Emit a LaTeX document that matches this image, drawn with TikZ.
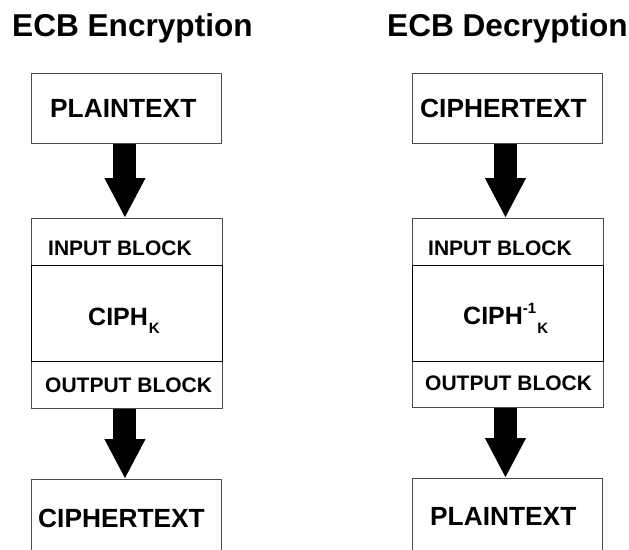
\documentclass[tikz,border=0pt]{standalone}
\usepackage{fontspec}
\setmainfont{Liberation Sans}
\usetikzlibrary{arrows.meta}
\tikzset{
  box/.style={draw=black!70, line width=0.9pt, rectangle, inner sep=0pt, anchor=north west},
  corebox/.style={draw=black, line width=1.1pt, rectangle, inner sep=0pt, anchor=north west},
  lbl/.style={inner sep=0pt, anchor=base west, font=\bfseries\fontsize{26.3}{26}\selectfont},
  small/.style={inner sep=0pt, anchor=base west, font=\bfseries\fontsize{21}{21}\selectfont},
  title/.style={inner sep=0pt, anchor=base west, font=\bfseries\fontsize{31.6}{31}\selectfont},
  fat/.style={line width=23pt, -{Triangle[length=40pt,width=38pt]}, black},
}
\begin{document}
\begin{tikzpicture}[x=1pt,y=-1pt]
\useasboundingbox (0,0) rectangle (629,549);
\clip (0,0) rectangle (629,549);
\fill[white] (0,0) rectangle (629,549);

% Left column: encryption
\node[title] (t1) at (12,36.5) {ECB Encryption};
\node[box, minimum width=190, minimum height=70] (lp) at (31,73) {};
\node[lbl] (lpt) at (50,117) {PLAINTEXT};
\node[box, minimum width=191, minimum height=190] (lm) at (31,218) {};
\node[corebox, minimum width=191, minimum height=96] (lc) at (31,265) {};
\node[small] (lin) at (48,255) {INPUT BLOCK};
\node[lbl] (lck) at (88,325) {\fontsize{25}{25}\selectfont CIPH\kern1pt\raisebox{-8pt}{\fontsize{15}{15}\selectfont K}};
\node[small] (lout) at (45,392) {OUTPUT BLOCK};
\node[box, minimum width=190, minimum height=100] (lb) at (31,479) {};
\node[lbl] (lbt) at (38,527) {CIPHERTEXT};
\draw[fat] ([xshift=-1.5pt]lp.south) -- ([xshift=-1.5pt]lp.south |- lm.north);
\draw[fat] ([xshift=-2pt]lm.south) -- ([xshift=-2pt]lm.south |- lb.north);

% Right column: decryption
\node[title] (t2) at (387,36.5) {ECB Decryption};
\node[box, minimum width=190, minimum height=70] (rp) at (412,73) {};
\node[lbl] (rpt) at (420,117) {CIPHERTEXT};
\node[box, minimum width=191, minimum height=189] (rm) at (412,218) {};
\node[corebox, minimum width=191, minimum height=96] (rc) at (412,265) {};
\node[small] (rin) at (428,255) {INPUT BLOCK};
\node[lbl] (rck) at (463,324) {\fontsize{25}{25}\selectfont CIPH\raisebox{11pt}{\fontsize{15}{15}\selectfont -1}\kern1pt\raisebox{-9pt}{\fontsize{15}{15}\selectfont K}};
\node[small] (rout) at (425,390.5) {OUTPUT BLOCK};
\node[box, minimum width=190, minimum height=100] (rb) at (412,478) {};
\node[lbl] (rbt) at (430,525) {PLAINTEXT};
\draw[fat] ([xshift=-2pt]rp.south) -- ([xshift=-2pt]rp.south |- rm.north);
\draw[fat] ([xshift=-2.5pt]rm.south) -- ([xshift=-2.5pt]rm.south |- rb.north);
\end{tikzpicture}
\end{document}
